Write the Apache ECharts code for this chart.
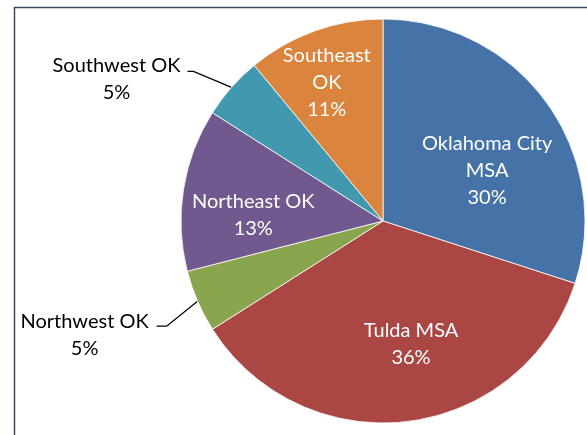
<!DOCTYPE html>
<html>
<head>
<meta charset="utf-8">
<script src="https://cdn.jsdelivr.net/npm/echarts@6/dist/echarts.min.js"></script>
<style>
  html, body { margin: 0; padding: 0; background: #fff; }
  #chart { width: 587px; height: 435px; }
</style>
</head>
<body>
<div id="chart"></div>
<script>
// regions and their share (%)
var regions = ['Oklahoma City\nMSA', 'Tulda MSA', 'Northwest OK', 'Northeast OK', 'Southwest OK', 'Southeast\nOK'];
var shares = [30, 36, 5, 13, 5, 11];
var colors = ['#4572A7', '#AA4643', '#89A54E', '#71588F', '#4198AF', '#DB843D'];

// labels that sit outside the pie, with their leader line shape
var outsideLabels = {
  'Southwest OK': { bend: [-38, -16], end: [-6, 0], text: [-71, 8] },
  'Northwest OK': { bend: [-31, 25], end: [-10, 0], text: [-72, 9] }
};
// nudges for labels inside the slices
var insideOffsets = {
  'Oklahoma City\nMSA': [20, 11],
  'Tulda MSA': [15, 20],
  'Northeast OK': [-27, 10],
  'Southeast\nOK': [-21, -41]
};

var chart = echarts.init(document.getElementById('chart'));

var data = regions.map(function (name, i) {
  var outside = !!outsideLabels[name];
  return {
    name: name,
    value: shares[i],
    itemStyle: { color: colors[i] },
    label: outside
      ? { position: 'outside', color: '#000' }
      : { position: 'inside', color: '#fff', offset: insideOffsets[name] },
    labelLine: { show: outside }
  };
});

var option = {
  animation: false,
  backgroundColor: '#fff',
  graphic: [{
    type: 'polyline',
    shape: { points: [[14.5, 440], [14.5, 7.5], [590, 7.5]] },
    style: { stroke: '#3e4a63', lineWidth: 1.5, fill: null },
    silent: true
  }],
  series: [{
    type: 'pie',
    center: [383, 221],
    radius: 202,
    startAngle: 90,
    clockwise: true,
    avoidLabelOverlap: false,
    itemStyle: { borderColor: '#fff', borderWidth: 0.8 },
    label: {
      show: true,
      fontFamily: 'Lato',
      fontSize: 20,
      lineHeight: 27,
      align: 'center',
      formatter: function (p) { return p.name + '\n' + p.value + '%'; }
    },
    labelLine: {
      lineStyle: { color: '#000', width: 1.3 }
    },
    labelLayout: function (params) {
      var name = regions[params.dataIndex];
      var cfg = outsideLabels[name];
      if (!cfg || !params.labelLinePoints) return {};
      var p0 = params.labelLinePoints[0];
      var bend = [p0[0] + cfg.bend[0], p0[1] + cfg.bend[1]];
      var end = [bend[0] + cfg.end[0], bend[1] + cfg.end[1]];
      return {
        x: end[0] + cfg.text[0],
        y: end[1] + cfg.text[1],
        align: 'center',
        verticalAlign: 'middle',
        labelLinePoints: [p0, bend, end]
      };
    },
    data: data
  }]
};

chart.setOption(option);
</script>
</body>
</html>
